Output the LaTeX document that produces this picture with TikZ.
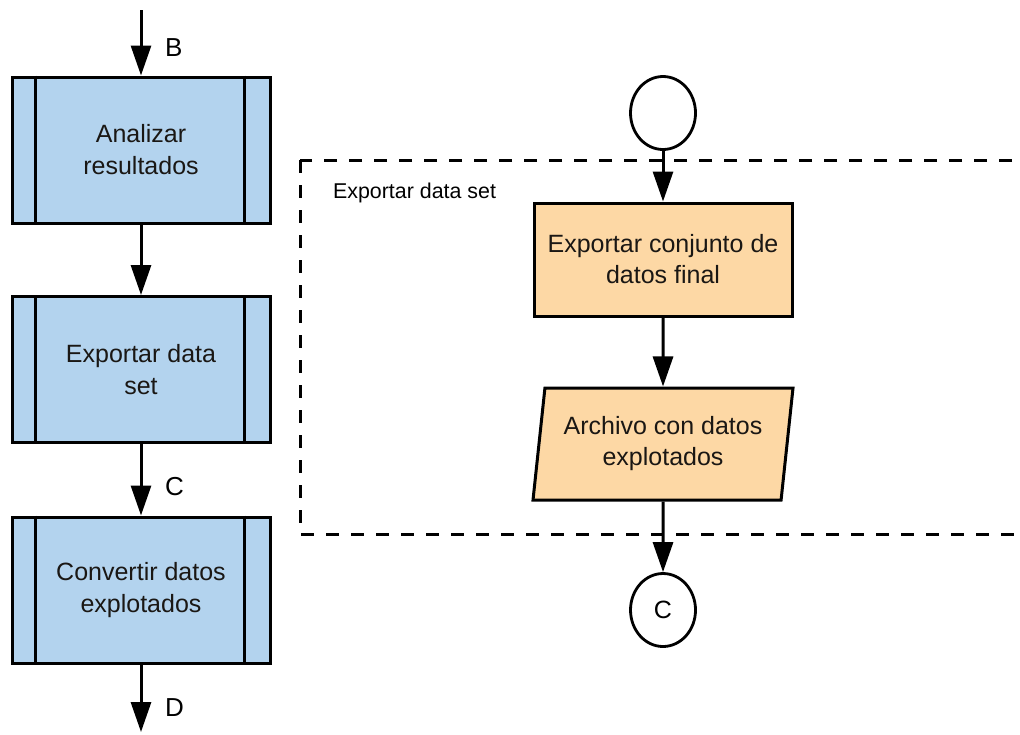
\documentclass[tikz,border=0pt]{standalone}
\usepackage{fontspec}
\setmainfont{Liberation Sans}
\usetikzlibrary{positioning,shapes.geometric,arrows.meta}

\definecolor{procblue}{HTML}{B3D3EE}
\definecolor{taskorange}{HTML}{FDD8A5}
\definecolor{inktext}{HTML}{1A1714}

\tikzset{
  predproc/.style={draw, line width=1.5pt, fill=procblue, text=inktext,
    minimum width=129pt, minimum height=73pt, align=center,
    font=\fontsize{12.5}{16}\selectfont},
  taskbox/.style={draw, line width=1.5pt, fill=taskorange, text=inktext,
    minimum width=129pt, minimum height=56.5pt, align=center,
    font=\fontsize{12.5}{15.5}\selectfont},
  iobox/.style={trapezium, trapezium left angle=80, trapezium right angle=100,
    trapezium stretches body, draw, line width=1.5pt, fill=taskorange,
    text=inktext, minimum width=130pt, minimum height=56pt, align=center,
    font=\fontsize{12.5}{15.5}\selectfont},
  connector/.style={ellipse, draw, line width=1.4pt, fill=white,
    minimum width=32.5pt, minimum height=36.5pt, inner sep=0pt,
    font=\fontsize{12.5}{15}\selectfont},
  flow/.style={-{Triangle[length=15pt,width=10pt]}, line width=1.5pt},
  flowlabel/.style={right=8pt, font=\fontsize{13}{15}\selectfont},
  groupline/.style={line width=1.5pt, dash pattern=on 6.5pt off 6pt},
}

\begin{document}
\begin{tikzpicture}[x=0.5pt,y=-0.5pt]
  \useasboundingbox (0,0) rectangle (1020,734);

  % Group frame
  \draw[groupline] (300,160) rectangle (1032,534);
  \node[anchor=west, font=\fontsize{10.7}{13}\selectfont] (grouplbl) at (326,193) {Exportar data set};

  % Left column
  \coordinate (inB) at (141,10);
  \node[predproc] (analizar) at (141,150) {Analizar\\resultados};
  \node[predproc] (exportar) at (141,369.5) {Exportar data\\set};
  \node[predproc] (convertir) at (141,590) {Convertir datos\\explotados};
  \coordinate (outD) at (141,732);

  \foreach \n in {analizar, exportar, convertir} {
    \draw[line width=1.5pt] ([xshift=12.5pt]\n.north west) -- ([xshift=12.5pt]\n.south west);
    \draw[line width=1.5pt] ([xshift=-13.5pt]\n.north east) -- ([xshift=-13.5pt]\n.south east);
  }

  \draw[flow] (inB) -- (analizar) node[flowlabel, pos=0.57] {B};
  \draw[flow] (analizar) -- (exportar);
  \draw[flow] (exportar) -- (convertir) node[flowlabel, pos=0.6] {C};
  \draw[flow] (convertir) -- (outD) node[flowlabel, pos=0.64] {D};

  % Right column
  \node[connector] (start) at (663,113) {};
  \node[taskbox] (final) at (663,259.5) {Exportar conjunto de\\datos final};
  \node[iobox] (archivo) at (663,444) {Archivo con datos\\explotados};
  \node[connector] (outC) at (663,610) {C};

  \draw[flow] (start) -- (final);
  \draw[flow] (final) -- (archivo);
  \draw[flow] (archivo) -- (outC);
\end{tikzpicture}
\end{document}
